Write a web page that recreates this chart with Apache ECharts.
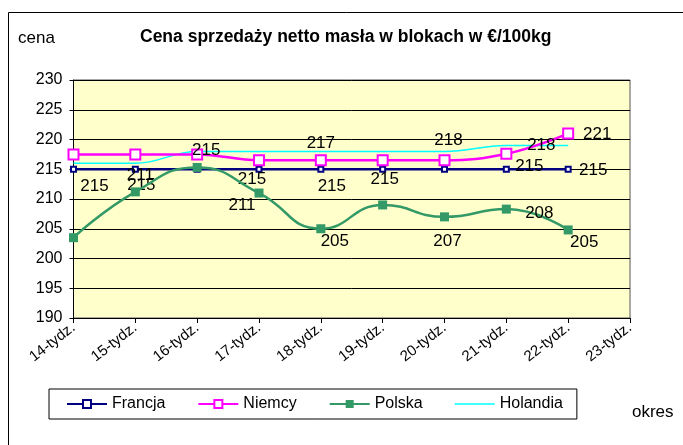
<!DOCTYPE html>
<html><head><meta charset="utf-8">
<script src="https://cdn.jsdelivr.net/npm/echarts@6/dist/echarts.min.js"></script>
<style>html,body{margin:0;padding:0;background:#fff}#c{width:683px;height:445px}</style>
</head><body><div id="c"></div>
<script>
const categories = ['14-tydz.','15-tydz.','16-tydz.','17-tydz.','18-tydz.','19-tydz.','20-tydz.','21-tydz.','22-tydz.','23-tydz.'];
const francja  = [215, 215, 215, 215, 215, 215, 215, 215, 215];
const niemcy   = [217.5, 217.5, 217.5, 216.5, 216.5, 216.5, 216.5, 217.6, 221];
const polska   = [203.5, 211.2, 215.3, 211, 205, 209, 207, 208.3, 204.8];
const holandia = [216, 216, 218, 218, 218, 218, 218, 219, 219];
const yTicks = [190, 230, 5];

// label offsets (dx, dy) from the point, per series index
const francjaLabels  = {0:[21,17], 1:[6,16], 3:[-7,10], 4:[11,17], 5:[2,10], 7:[23,-3], 8:[25,1]};
const niemcyLabels   = {4:[0,-17], 7:[35,-8], 8:[29,1]};
const polskaLabels   = {1:[5,-17], 2:[9,-17], 3:[-17,12], 4:[14,13], 6:[3,24], 7:[33,4], 8:[16,12]};
const holandiaLabelIndex = 6;
const holandiaLabelOffset = [4,-11];

const FONT = 'Arial, "Liberation Sans", sans-serif';
// thin-line legend icon (bbox 40x10, visible bar in the middle)
const LINE_ICON = 'path://M0,0L0.01,0L0.01,0.01Z M0,4.3H40V5.7H0Z M39.99,10L40,10L40,9.99Z';

function build(values, labels) {
  return values.map((v, i) => labels[i] ? {value: v, label: {show: true, offset: labels[i]}} : v);
}

const labelBase = {
  show: false, position: 'inside', color: '#000', fontSize: 17, fontFamily: FONT,
  formatter: p => String(Math.round(p.value))
};

const chart = echarts.init(document.getElementById('c'), null, {renderer: 'canvas'});
chart.setOption({
  animation: false,
  backgroundColor: '#fff',
  title: {
    text: 'Cena sprzedaży netto masła w blokach w €/100kg',
    left: 135, top: 23,
    textStyle: {fontFamily: FONT, fontSize: 17.5, fontWeight: 'bold', color: '#000'}
  },
  graphic: [
    {type: 'rect', shape: {x: 8.5, y: 12.5, width: 720, height: 500}, style: {fill: 'none', stroke: '#000', lineWidth: 1}, z: -1},
    {type: 'text', left: 18, top: 30, style: {text: 'cena', fontFamily: FONT, fontSize: 17, fill: '#000'}},
    {type: 'text', left: 632, top: 404, style: {text: 'okres', fontFamily: FONT, fontSize: 17, fill: '#000'}}
  ],
  legend: {
    left: 49, top: 389,
    padding: [6, 14, 6, 17],
    borderColor: '#000', borderWidth: 1,
    itemWidth: 40, itemHeight: 10, itemGap: 32,
    textStyle: {fontFamily: FONT, fontSize: 16, color: '#000', lineHeight: 18},
    data: ['Francja', 'Niemcy', 'Polska',
           {name: 'Holandia', icon: LINE_ICON, itemStyle: {color: '#00FFFF', borderWidth: 0}}]
  },
  grid: {
    left: 73.5, right: 53, top: 80, bottom: 127,
    show: true, backgroundColor: '#FFFFCC', borderColor: '#555', borderWidth: 1
  },
  xAxis: {
    type: 'category', data: categories, boundaryGap: false,
    axisLine: {lineStyle: {color: '#000', width: 1}},
    axisTick: {show: true, alignWithLabel: true, length: 5, lineStyle: {color: '#000'}},
    axisLabel: {rotate: 38, color: '#000', fontFamily: FONT, fontSize: 15, margin: 8, interval: 0},
    splitLine: {show: false}
  },
  yAxis: {
    type: 'value', min: yTicks[0], max: yTicks[1], interval: yTicks[2],
    axisLine: {show: true, lineStyle: {color: '#000', width: 1}},
    axisTick: {show: true, length: 4, lineStyle: {color: '#000'}},
    axisLabel: {color: '#000', fontFamily: FONT, fontSize: 16, margin: 11},
    splitLine: {show: true, lineStyle: {color: '#000', width: 1}}
  },
  series: [
    {
      name: 'Francja', type: 'line', data: build(francja, francjaLabels),
      symbol: 'emptyRect', symbolSize: 5,
      lineStyle: {color: '#000080', width: 2.5},
      itemStyle: {color: '#000080', borderColor: '#000080', borderWidth: 1.5},
      label: labelBase, z: 3
    },
    {
      name: 'Niemcy', type: 'line', data: build(niemcy, niemcyLabels), smooth: 0.4,
      symbol: 'emptyRect', symbolSize: 10,
      lineStyle: {color: '#FF00FF', width: 2.5},
      itemStyle: {color: '#FF00FF', borderColor: '#FF00FF', borderWidth: 1.5},
      label: labelBase, z: 4
    },
    {
      name: 'Polska', type: 'line', data: build(polska, polskaLabels), smooth: 0.5,
      symbol: 'rect', symbolSize: 9,
      lineStyle: {color: '#339966', width: 2.5},
      itemStyle: {color: '#339966'},
      label: labelBase, z: 5
    },
    {
      name: 'Holandia', type: 'line', data: holandia, smooth: 0.4,
      symbol: 'none',
      lineStyle: {color: '#00FFFF', width: 1.5},
      itemStyle: {color: '#00FFFF'},
      markPoint: {
        symbol: 'circle', symbolSize: 1,
        itemStyle: {color: '#00FFFF'},
        label: {show: true, position: 'inside', offset: holandiaLabelOffset, color: '#000', fontSize: 17, fontFamily: FONT,
                formatter: p => String(Math.round(p.value))},
        data: [{coord: [holandiaLabelIndex, holandia[holandiaLabelIndex]], value: holandia[holandiaLabelIndex]}]
      },
      z: 2
    }
  ]
});
</script></body></html>
